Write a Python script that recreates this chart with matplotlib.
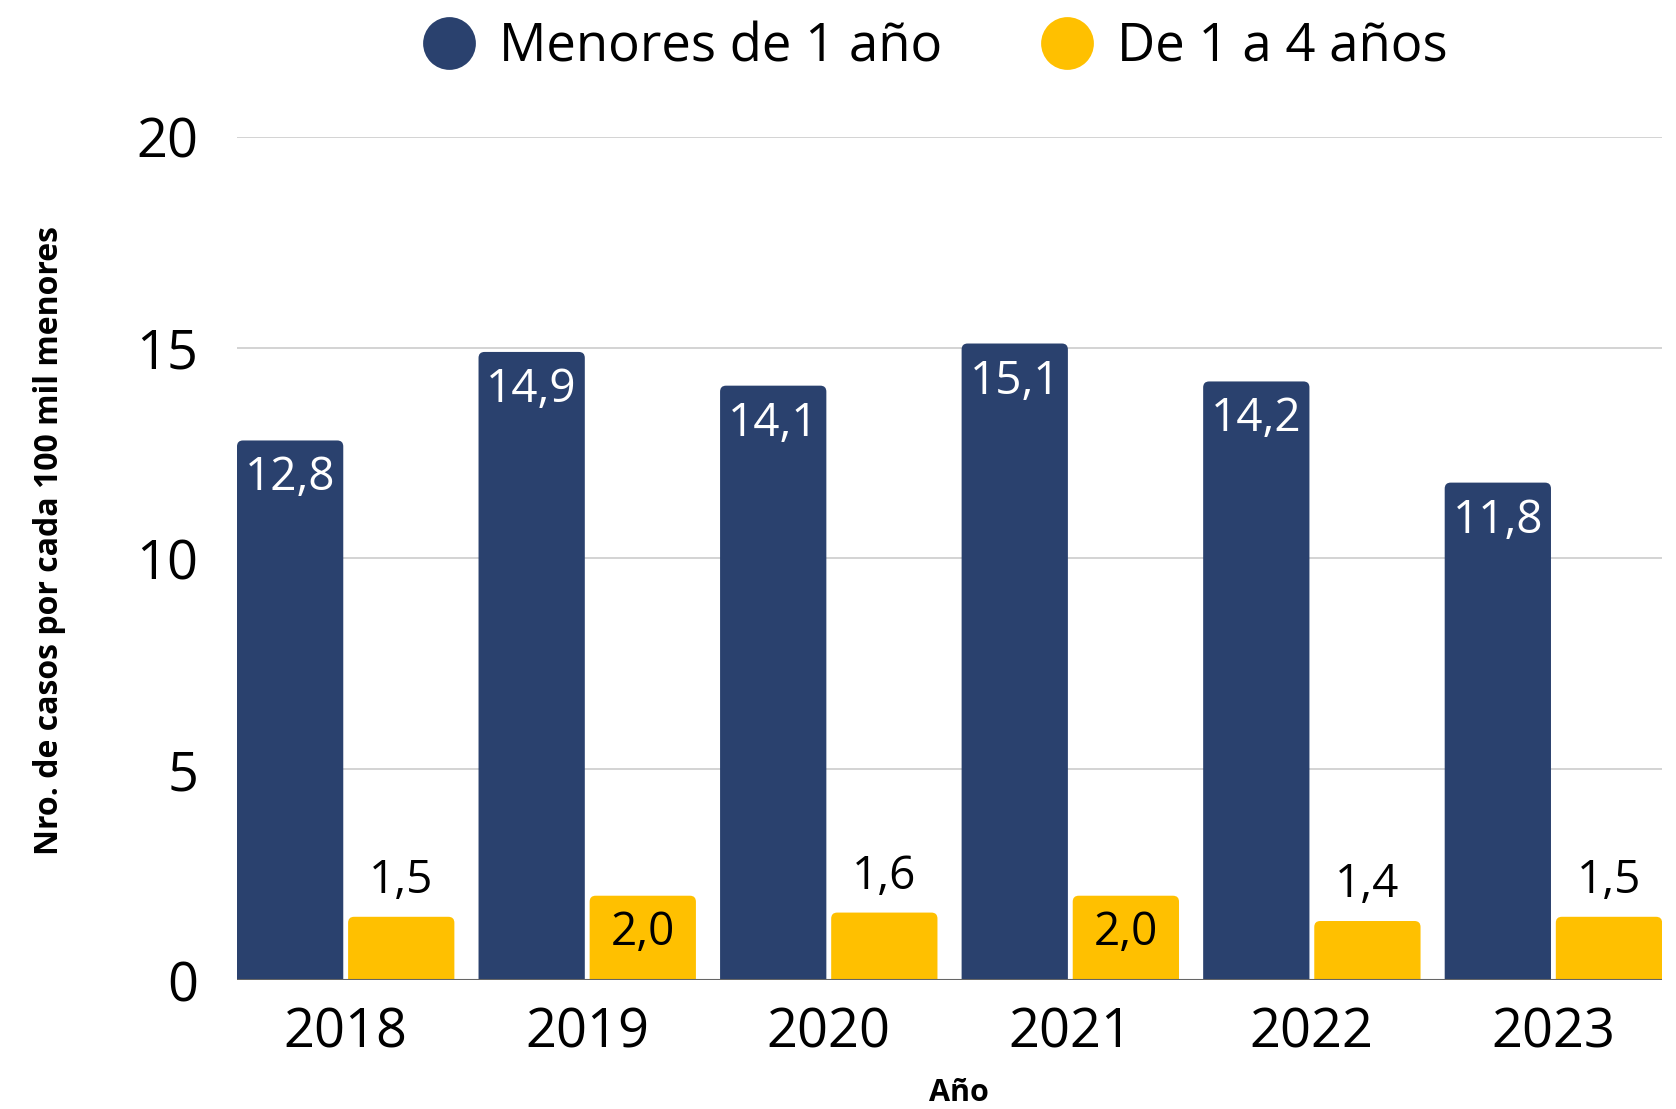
import matplotlib
matplotlib.use("Agg")
import matplotlib.pyplot as plt
from matplotlib.patches import FancyBboxPatch
from matplotlib.lines import Line2D
import numpy as np

plt.rcParams['font.family'] = ['Open Sans', 'DejaVu Sans']

years = ["2018", "2019", "2020", "2021", "2022", "2023"]
menores_1 = [12.8, 14.9, 14.1, 15.1, 14.2, 11.8]
de_1_a_4 = [1.5, 2.0, 1.6, 2.0, 1.4, 1.5]
series_names = ["Menores de 1 año", "De 1 a 4 años"]

NAVY = "#2a416e"
YELLOW = "#ffc000"

fig = plt.figure(figsize=(16.76, 11.09), dpi=100)
ax = fig.add_axes([0.1414, 0.1163, 0.8503, 0.7602])

x = np.arange(len(years))
width = 0.44
offset = 0.23
ax.set_xlim(-0.45, len(years) - 0.55)
ax.set_ylim(0, 20)

# rounded tops: convert a few pixels into data units on each axis
fig.canvas.draw()
bbox = ax.get_window_extent()
px_x = (ax.get_xlim()[1] - ax.get_xlim()[0]) / bbox.width
px_y = 20 / bbox.height
r = 6
rx, ry = r * px_x, r * px_y


def rounded_bar(xc, h, color):
    p = FancyBboxPatch((xc - width / 2, -ry * 2), width, h + ry * 2,
                       boxstyle=f"round,pad=0,rounding_size={rx}",
                       mutation_aspect=ry / rx, facecolor=color,
                       edgecolor="none", zorder=3)
    ax.add_patch(p)


def fmt(v):
    return f"{v:.1f}".replace(".", ",")


for i in range(len(years)):
    rounded_bar(x[i] - offset, menores_1[i], NAVY)
    rounded_bar(x[i] + offset, de_1_a_4[i], YELLOW)
    ax.text(x[i] - offset, menores_1[i] - 38 * px_y, fmt(menores_1[i]),
            ha="center", va="center", color="white", fontsize=33, zorder=4)
    v = de_1_a_4[i]
    if v >= 1.8:
        ax.text(x[i] + offset, v - 37 * px_y, fmt(v), ha="center",
                va="center", color="black", fontsize=33, zorder=4)
    else:
        ax.text(x[i] + offset, v + 36 * px_y, fmt(v), ha="center",
                va="center", color="black", fontsize=33, zorder=4)

ax.set_yticks([0, 5, 10, 15, 20])
ax.yaxis.grid(True, color="#cccccc", linewidth=1.2, zorder=0)
ax.axhline(0, color="#666666", linewidth=1.5, zorder=5)
ax.set_axisbelow(True)
for s in ax.spines.values():
    s.set_visible(False)
ax.set_xticks(x)
ax.set_xticklabels(years)
ax.tick_params(axis="both", length=0, labelsize=39)
ax.tick_params(axis="x", pad=18)
ax.tick_params(axis="y", pad=28)

fig.text(959 / 1676, 1 - 1093 / 1109, "Año", fontsize=22,
         fontweight="bold", ha="center", va="center")
fig.text(50 / 1676, 1 - 541 / 1109, "Nro. de casos por cada 100 mil menores",
         fontsize=23, fontweight="bold", rotation=90, ha="center", va="center")

handles = [Line2D([], [], marker="o", linestyle="none", markersize=38,
                  markerfacecolor=c, markeredgecolor="none")
           for c in (NAVY, YELLOW)]
fig.legend(handles, series_names, loc="upper center",
           bbox_to_anchor=(0.558, 1.024), ncol=2, frameon=False,
           fontsize=38, handlelength=1.0, handletextpad=0.45,
           columnspacing=1.85)

fig.savefig("out.png", dpi=100)
